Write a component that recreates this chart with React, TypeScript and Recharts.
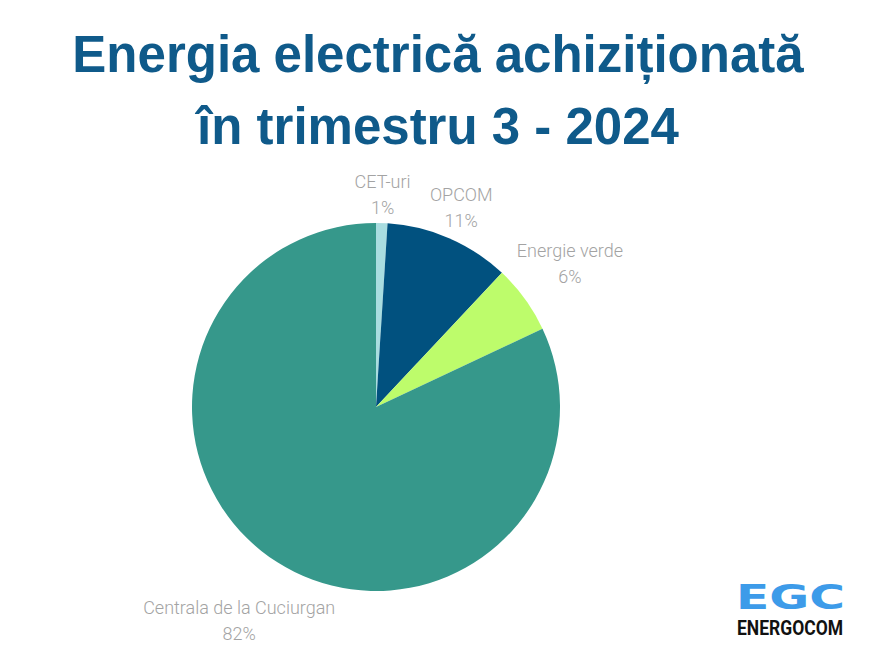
import React from "react";
import { PieChart, Pie, Cell } from "recharts";

const categories = ["CET-uri", "OPCOM", "Energie verde", "Centrala de la Cuciurgan"];
const shares = [1, 11, 6, 82];
const sliceColors = ["#a9dde0", "#01517f", "#bdfc6b", "#36988b"];

const titleLines = ["Energia electrică achiziționată", "în trimestru 3 - 2024"];

const data = categories.map((name, i) => ({ name, value: shares[i] }));

const RADIAN = Math.PI / 180;

const SliceLabel = (props: any) => {
  const { cx, cy, midAngle, outerRadius, name, value } = props;
  const cos = Math.cos(midAngle * RADIAN);
  const sin = Math.sin(midAngle * RADIAN);
  // push the two-line label box just outside the rim
  const halfW = String(name).length * 3.9;
  const halfH = 25;
  const d = outerRadius + halfW * Math.abs(cos) + halfH * Math.abs(sin);
  const x = cx + d * cos;
  const y = cy - d * sin - 3;
  return (
    <text
      x={x}
      y={y}
      textAnchor="middle"
      fill="#a3a3a3"
      stroke="none"
      fontFamily="Roboto"
      fontWeight={300}
      fontSize={18}
    >
      <tspan x={x} y={y - 6}>
        {name}
      </tspan>
      <tspan x={x} y={y + 20}>
        {value}%
      </tspan>
    </text>
  );
};

export default function App() {
  return (
    <div
      style={{
        position: "absolute",
        left: 0,
        top: 0,
        width: 887,
        height: 665,
        background: "#ffffff",
        overflow: "hidden",
      }}
    >
      <svg
        width={887}
        height={665}
        style={{ position: "absolute", left: 0, top: 0 }}
      >
        {titleLines.map((line, i) => (
          <text
            key={i}
            x={438}
            y={72 + i * 72}
            textAnchor="middle"
            fill="#0f5a8a"
            fontFamily="Liberation Sans, Arial"
            fontWeight={700}
            fontSize={51}
          >
            {line}
          </text>
        ))}
        <text
          x={736}
          y={609}
          fill="#3d9be9"
          fontFamily="DejaVu Sans"
          fontWeight={700}
          fontSize={33}
          textLength={109}
          lengthAdjust="spacingAndGlyphs"
        >
          EGC
        </text>
        <text
          x={737}
          y={635}
          fill="#111111"
          fontFamily="Roboto"
          fontWeight={700}
          fontSize={21}
          textLength={106}
          lengthAdjust="spacingAndGlyphs"
        >
          ENERGOCOM
        </text>
      </svg>
      <div style={{ position: "absolute", left: 0, top: 0 }}>
        <PieChart
          width={887}
          height={665}
          margin={{ top: 0, right: 0, bottom: 0, left: 0 }}
        >
          <Pie
            data={data}
            dataKey="value"
            nameKey="name"
            cx={376}
            cy={407}
            outerRadius={184}
            startAngle={90}
            endAngle={-270}
            stroke="none"
            labelLine={false}
            label={SliceLabel}
            isAnimationActive={false}
          >
            {data.map((entry, i) => (
              <Cell key={entry.name} fill={sliceColors[i]} />
            ))}
          </Pie>
        </PieChart>
      </div>
    </div>
  );
}
